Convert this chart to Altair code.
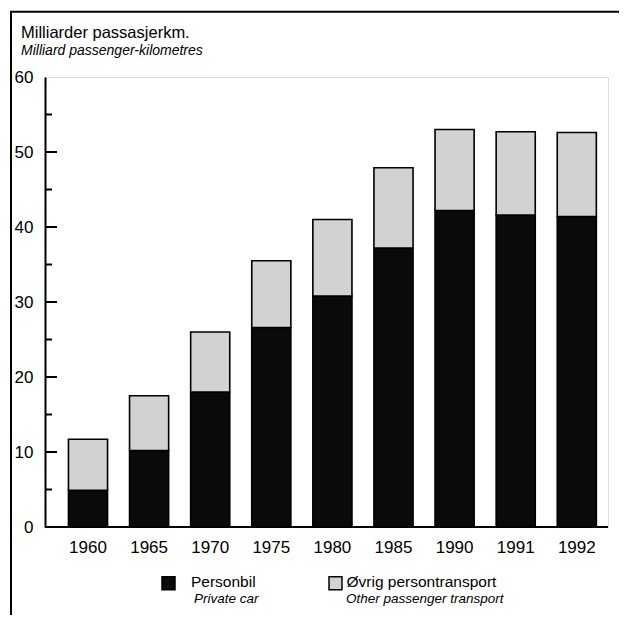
import altair as alt
import pandas as pd

years = ["1960", "1965", "1970", "1975", "1980", "1985", "1990", "1991", "1992"]
car = [4.9, 10.2, 18.0, 26.6, 30.8, 37.2, 42.2, 41.6, 41.4]
other = [6.8, 7.3, 8.0, 8.9, 10.2, 10.7, 10.8, 11.1, 11.2]
series_no = ["Personbil", "Øvrig persontransport"]
series_en = ["Private car", "Other passenger transport"]
y_ticks = [0, 10, 20, 30, 40, 50, 60]
major_ticks = [10, 20, 30, 40, 50]
minor_ticks = [5, 15, 25, 35, 45, 55]
title_no = "Milliarder passasjerkm."
title_en = "Milliard passenger-kilometres"

FONT = "Liberation Sans Narrow, Arial Narrow, Liberation Sans"
W, H = 563, 450

rows = []
for i, y in enumerate(years):
    rows.append({"year": y, "series": series_no[0], "value": car[i], "ord": 0})
    rows.append({"year": y, "series": series_no[1], "value": other[i], "ord": 1})
df = pd.DataFrame(rows)

xscale = alt.Scale(domain=years, range=[12.45, 562.35], paddingInner=0.36, paddingOuter=0.18)
yscale = alt.Scale(domain=[0, 60], nice=False, zero=True)
color_scale = alt.Scale(domain=series_no, range=["#0a0a0a", "#d2d2d2"])

bars = alt.Chart(df).mark_bar(stroke="black", strokeWidth=1.6).encode(
    x=alt.X("year:N", scale=xscale, sort=years,
            axis=alt.Axis(title=None, labelAngle=0, ticks=False, tickSize=0, domain=False,
                          labelFont=FONT, labelFontSize=17, labelColor="black",
                          labelPadding=12)),
    y=alt.Y("value:Q", scale=yscale, stack="zero",
            axis=alt.Axis(title=None, values=y_ticks, ticks=False, tickSize=0, grid=False,
                          domainColor="black", domainWidth=2, labelFont=FONT,
                          labelFontSize=17, labelColor="black", labelPadding=12,
                          labelBaseline="middle")),
    color=alt.Color("series:N", scale=color_scale, legend=None),
    order=alt.Order("ord:Q"),
)

maj = alt.Chart(pd.DataFrame({"v": major_ticks})).mark_rule(color="black", strokeWidth=2).encode(
    y=alt.Y("v:Q", scale=yscale), x=alt.value(0), x2=alt.value(12))
mino = alt.Chart(pd.DataFrame({"v": minor_ticks})).mark_rule(color="black", strokeWidth=2).encode(
    y=alt.Y("v:Q", scale=yscale), x=alt.value(0), x2=alt.value(7))
base = alt.Chart(pd.DataFrame({"v": [0]})).mark_rule(color="black", strokeWidth=2).encode(
    y=alt.Y("v:Q", scale=yscale), x=alt.value(0), x2=alt.value(W))

one = pd.DataFrame({"a": [0]})
frame_left = alt.Chart(one).mark_rule(color="black", strokeWidth=2).encode(
    x=alt.value(-34), y=alt.value(-65.3), y2=alt.value(560))
frame_top = alt.Chart(one).mark_rule(color="black", strokeWidth=2).encode(
    y=alt.value(-65.3), x=alt.value(-35), x2=alt.value(580))

def txt(text, x, y, size, italic=False):
    return alt.Chart(one).mark_text(
        text=text, align="left", baseline="alphabetic", font=FONT, fontSize=size,
        fontStyle="italic" if italic else "normal", color="black"
    ).encode(x=alt.value(x), y=alt.value(y))

t1 = txt(title_no, -24, -39.3, 16.5)
t2 = txt(title_en, -24, -22.3, 14, True)

sq1 = alt.Chart(one).mark_rect(color="#0a0a0a", stroke="black", strokeWidth=1.5).encode(
    x=alt.value(117), x2=alt.value(130), y=alt.value(499.7), y2=alt.value(512.7))
sq2 = alt.Chart(one).mark_rect(color="#d2d2d2", stroke="black", strokeWidth=1.5).encode(
    x=alt.value(284), x2=alt.value(297), y=alt.value(499.7), y2=alt.value(512.7))
l1 = txt(series_no[0], 146, 509.5, 15.5)
l2 = txt(series_en[0], 149, 526, 13.5, True)
l3 = txt(series_no[1], 301.5, 509.5, 15.5)
l4 = txt(series_en[1], 301, 526, 13.5, True)

chart = alt.layer(
    frame_left, frame_top, t1, t2, bars, maj, mino, base, sq1, sq2, l1, l2, l3, l4
).properties(
    width=W, height=H,
    autosize=alt.AutoSizeParams(type="none"),
    padding={"left": 37, "top": 69, "right": 11, "bottom": 88},
).configure_view(stroke=None).configure(background="white")

chart.save("out.html", embed_options={"renderer": "svg", "actions": False})
